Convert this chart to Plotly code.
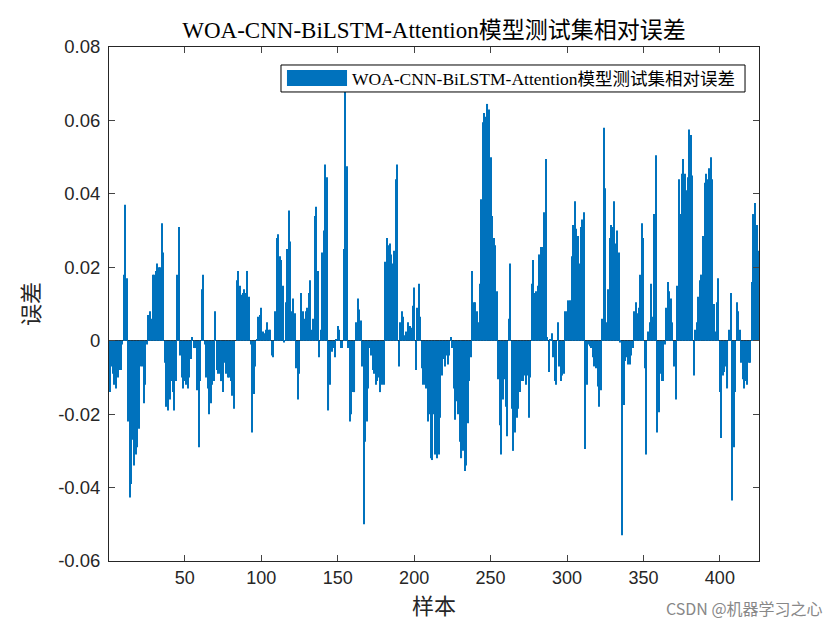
import plotly.graph_objects as go

# relative error for each test sample
errors = [
    -0.014, -0.007, -0.009, -0.012, -0.013, -0.010, -0.008, -0.008, -0.001, 0.018,
    0.037, 0.017, -0.022, -0.0427, -0.039, -0.027, -0.034, -0.031, -0.029, -0.024,
    -0.007, -0.007, -0.017, -0.012, -0.001, 0.007, 0.008, 0.006, 0.018, 0.018,
    0.019, 0.021, 0.020, 0.020, 0.032, 0.024, -0.006, -0.018, -0.019, -0.016,
    -0.011, -0.014, -0.019, -0.011, 0.018, 0.031, -0.004, -0.010, -0.013, -0.011,
    -0.012, -0.013, -0.010, -0.005, 0.001, -0.002, -0.002, -0.0135, -0.029, -0.011,
    0.014, 0.018, -0.001, -0.010, -0.013, -0.020, -0.017, -0.012, -0.011, 0.008,
    -0.008, -0.009, -0.009, -0.011, -0.014, -0.006, -0.009, -0.010, -0.010, -0.011,
    -0.015, -0.0185, 0.0, 0.0165, 0.019, 0.015, 0.0125, 0.013, 0.014, 0.013,
    0.019, 0.012, -0.001, -0.025, -0.0145, -0.007, 0.0005, 0.0065, 0.007, 0.009,
    0.0025, 0.002, 0.003, 0.005, 0.003, 0.003, -0.004, -0.0045, 0.008, 0.028,
    0.029, 0.023, 0.022, 0.015, -0.0005, 0.0105, 0.025, 0.0355, 0.027, 0.008,
    0.0115, 0.0075, -0.0075, -0.016, -0.009, 0.013, 0.008, 0.006, 0.008, 0.009,
    0.013, 0.0165, 0.003, 0.006, 0.034, 0.0365, 0.019, -0.0045, 0.003, 0.024,
    0.030, 0.048, 0.0445, -0.019, -0.012, -0.003, -0.002, -0.0045, 0.0005, 0.004,
    0.003, -0.002, -0.002, 0.025, 0.068, 0.0475, -0.002, -0.022, -0.020, -0.014,
    -0.014, 0.005, 0.0115, 0.0085, 0.0055, -0.007, -0.050, -0.0275, -0.022, -0.013,
    -0.002, -0.004, -0.008, -0.009, -0.012, -0.011, -0.010, -0.014, -0.012, -0.012,
    0.0215, 0.028, 0.026, 0.0265, 0.0235, 0.021, 0.0245, 0.044, 0.048, -0.007,
    0.005, 0.008, 0.0065, 0.0015, 0.0025, 0.005, 0.004, 0.0035, 0.0095, 0.0145,
    -0.008, 0.009, 0.0155, 0.0065, -0.0075, -0.012, -0.012, -0.013, -0.022, -0.020,
    -0.032, -0.0325, -0.020, -0.031, -0.032, -0.031, -0.021, -0.0095, -0.005, -0.007,
    -0.004, -0.0065, -0.004, 0.001, -0.002, -0.013, -0.0215, -0.0165, -0.020, -0.0275,
    -0.032, -0.030, -0.0355, -0.034, -0.0225, -0.011, -0.0045, 0.019, 0.0105, 0.0105,
    0.008, 0.005, 0.0155, 0.0385, 0.0595, 0.062, 0.061, 0.0645, 0.063, 0.050,
    0.034, 0.028, 0.026, 0.0135, -0.0105, -0.023, -0.031, -0.016, -0.0105, -0.018,
    -0.026, 0.006, 0.021, -0.0185, -0.030, -0.025, -0.021, -0.0185, -0.014, -0.011,
    -0.011, -0.0095, -0.012, -0.0095, -0.021, -0.010, 0.0155, 0.022, 0.013, 0.0135,
    0.015, 0.0235, 0.0255, 0.0255, 0.035, 0.0495, 0.001, -0.0085, 0.0005, 0.002,
    -0.0045, -0.011, -0.012, 0.005, -0.007, -0.011, -0.0095, -0.009, 0.008, 0.008,
    0.011, 0.011, 0.023, 0.0315, 0.038, 0.0305, 0.0285, 0.021, 0.031, 0.033,
    0.035, -0.0295, -0.012, -0.001, -0.0015, -0.002, -0.0045, -0.007, -0.0075, -0.0125,
    -0.018, -0.0135, 0.006, 0.058, 0.0415, 0.005, 0.014, 0.028, 0.0315, 0.031,
    0.038, 0.0265, 0.030, 0.024, -0.0005, -0.053, -0.0175, -0.0055, -0.0045, -0.0065,
    -0.0065, -0.004, -0.002, 0.008, 0.0105, 0.0075, 0.009, 0.018, 0.032, 0.028,
    -0.0075, -0.031, 0.0025, 0.005, 0.0155, 0.0065, 0.0345, 0.0505, -0.025, -0.0195,
    -0.009, -0.011, -0.011, -0.001, 0.009, 0.016, 0.0135, 0.0115, 0.005, -0.007,
    -0.016, 0.015, 0.044, 0.0345, 0.0455, 0.0495, 0.0455, 0.041, 0.0445, 0.0575,
    0.056, 0.045, -0.0095, 0.003, 0.005, 0.012, 0.0165, 0.018, 0.0285, 0.043,
    0.0455, 0.044, 0.047, 0.050, 0.044, 0.010, 0.0025, 0.0105, 0.017, -0.014,
    -0.0265, -0.0095, -0.0085, -0.007, -0.013, 0.003, 0.013, -0.0435, -0.029, -0.014,
    0.0105, 0.008, 0.003, -0.006, -0.0105, -0.013, -0.011, -0.012, -0.006, -0.006,
    0.016, 0.0345, 0.0375, 0.0315, 0.0245,
]
samples = list(range(1, len(errors) + 1))

x_ticks = [50, 100, 150, 200, 250, 300, 350, 400]
y_ticks = [-0.06, -0.04, -0.02, 0, 0.02, 0.04, 0.06, 0.08]
y_tick_text = ['-0.06', '-0.04', '-0.02', '0', '0.02', '0.04', '0.06', '0.08']

title_text = 'WOA-CNN-BiLSTM-Attention模型测试集相对误差'
serif = 'Liberation Serif, Noto Sans CJK SC'
sans = 'Liberation Sans, Arial, sans-serif'
blue = '#0072BD'

fig = go.Figure()
fig.add_trace(go.Bar(x=samples, y=errors, marker=dict(color=blue, line=dict(width=0)),
                     showlegend=False))

# hand drawn legend box like MATLAB's wide patch
fig.add_shape(type='rect', xref='paper', yref='paper', x0=0.2646, x1=0.9785, y0=0.9125, y1=0.965,
              line=dict(color='black', width=1), fillcolor='white')
fig.add_shape(type='rect', xref='paper', yref='paper', x0=0.2738, x1=0.3662, y0=0.9241, y1=0.9553,
              line=dict(width=0), fillcolor=blue)
fig.add_annotation(xref='paper', yref='paper', x=0.3708, y=0.9387, xanchor='left', yanchor='middle',
                   text=title_text, showarrow=False, font=dict(family=serif, size=17.5, color='black'))

fig.add_annotation(xref='paper', yref='paper', x=1.1015, y=-0.0914, xanchor='right', yanchor='middle',
                   text='CSDN @机器学习之心', showarrow=False,
                   font=dict(family='Noto Sans CJK SC', size=16, color='#888888'))

fig.update_layout(
    width=840, height=630,
    margin=dict(l=101, r=89, t=39, b=77),
    paper_bgcolor='white', plot_bgcolor='white',
    bargap=0.3,
    title=dict(text=title_text, x=0.5, xanchor='center', xref='paper', y=0.965, yanchor='middle',
               font=dict(family=serif, size=23, color='black')),
    xaxis=dict(range=[0.4, 425.6], tickvals=x_ticks, ticks='inside', ticklen=6,
               showline=True, mirror='ticks', linecolor='#262626', linewidth=1,
               showgrid=False, zeroline=False,
               tickfont=dict(family=sans, size=18, color='#262626'),
               title=dict(text='样本', font=dict(family=serif, size=22, color='#262626'), standoff=12)),
    yaxis=dict(range=[-0.06, 0.08], tickvals=y_ticks, ticktext=y_tick_text, ticks='inside', ticklen=6,
               showline=True, mirror='ticks', linecolor='#262626', linewidth=1,
               showgrid=False, zeroline=True, zerolinecolor='#262626', zerolinewidth=1,
               ticklabelstandoff=4,
               tickfont=dict(family=sans, size=18.5, color='#262626'),
               title=dict(text='误差', font=dict(family=serif, size=22, color='#262626'), standoff=12)),
)

fig.write_html('out.html')
